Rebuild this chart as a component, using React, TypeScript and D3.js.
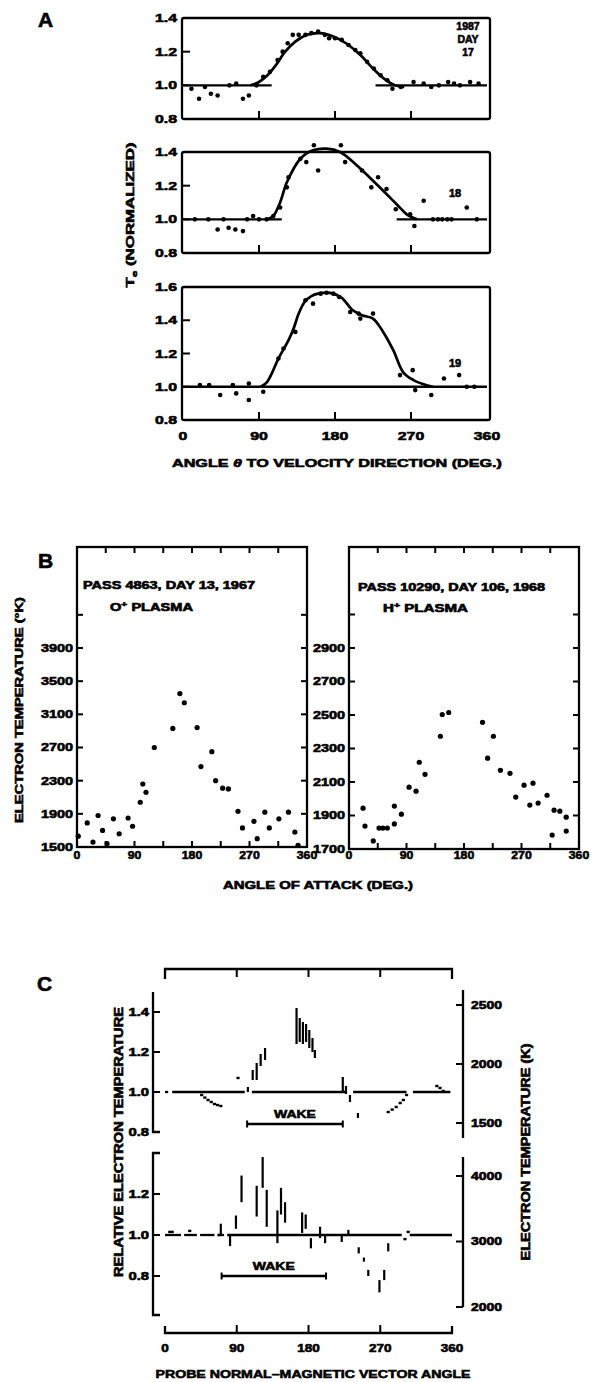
import React from 'react';
import * as d3 from 'd3';

const FONT = '"Liberation Sans", Arial, Helvetica, sans-serif';

// ---------- Panel A data ----------
const angleLabels = [0, 90, 180, 270, 360];
const innerAngles = [90, 180, 270];

const a17Dots: [number, number][] = [
  [10, 0.98], [19, 0.92], [26, 0.99], [33, 0.95], [41, 0.94], [55, 1.0], [63, 1.01], [71, 0.92], [78, 0.94], [87, 1.0],
  [95, 1.05], [103, 1.08], [112, 1.15], [118, 1.2], [124, 1.25], [130, 1.3], [137, 1.3], [145, 1.3], [152, 1.31], [160, 1.32],
  [168, 1.3], [173, 1.28], [180, 1.28], [188, 1.27], [196, 1.24], [204, 1.21], [210, 1.19], [218, 1.14], [226, 1.1], [234, 1.06],
  [242, 1.03], [248, 0.98], [258, 0.99], [273, 1.02], [285, 1.01], [294, 0.99], [303, 1.0], [314, 1.02], [321, 1.01], [328, 1.0],
  [340, 1.02], [350, 1.01],
];
const a17Curve: [number, number][] = [
  [80, 1.0], [90, 1.02], [100, 1.06], [110, 1.12], [121, 1.2], [133, 1.26], [147, 1.3], [162, 1.31], [178, 1.29],
  [193, 1.25], [210, 1.18], [225, 1.1], [238, 1.04], [251, 1.0], [262, 0.99],
];
const a17Flat: [number, number][] = [[0, 105], [228, 360]];

const a18Dots: [number, number][] = [
  [14, 1.0], [30, 1.0], [41, 0.94], [48, 1.0], [54, 0.95], [62, 0.94], [71, 0.93], [76, 1.0], [83, 1.02], [90, 1.0],
  [99, 1.0], [107, 1.02], [115, 1.07], [123, 1.19], [125, 1.25], [139, 1.36], [146, 1.34], [155, 1.44], [160, 1.29], [187, 1.44],
  [192, 1.34], [212, 1.29], [223, 1.19], [231, 1.25], [241, 1.18], [252, 1.06], [269, 1.03], [274, 0.96], [285, 1.11], [296, 1.0],
  [302, 1.0], [307, 1.0], [313, 1.0], [318, 1.0], [336, 1.07], [348, 1.0],
];
const a18Curve: [number, number][] = [
  [100, 1.0], [107, 1.02], [115, 1.1], [123, 1.22], [139, 1.36], [154, 1.41], [170, 1.42], [186, 1.4], [206, 1.32],
  [229, 1.21], [253, 1.09], [265, 1.03], [277, 1.0],
];
const a18Flat: [number, number][] = [[0, 117], [253, 360]];

const a19Dots: [number, number][] = [
  [20, 1.01], [31, 1.01], [44, 0.95], [59, 1.01], [63, 0.96], [78, 1.02], [78, 0.92], [95, 0.97], [113, 1.17], [119, 1.23],
  [133, 1.33], [145, 1.52], [154, 1.5], [163, 1.56], [170, 1.565], [178, 1.56], [185, 1.54], [198, 1.45], [208, 1.44], [210, 1.41],
  [225, 1.44], [257, 1.07], [272, 1.1], [275, 0.98], [294, 0.95], [309, 1.05], [327, 1.07], [336, 1.0], [345, 1.0],
];
const a19Curve: [number, number][] = [
  [92, 1.0], [99, 1.025], [106, 1.09], [113, 1.17], [119, 1.225], [125, 1.28], [131, 1.35], [137, 1.44], [144, 1.51],
  [152, 1.545], [160, 1.56], [174, 1.565], [188, 1.535], [200, 1.465], [212, 1.43], [225, 1.41], [237, 1.33], [249, 1.22],
  [261, 1.085], [273, 1.04], [285, 1.015], [296, 1.0],
];
const a19Flat: [number, number][] = [[0, 360]];

const aTicks14 = [0.8, 1.0, 1.2, 1.4];
const aTicks16 = [0.8, 1.0, 1.2, 1.4, 1.6];

// ---------- Panel B data ----------
const bAngleTicks = [45, 90, 135, 180, 225, 270, 315];
const bLeftTicks = [1500, 1900, 2300, 2700, 3100, 3500, 3900, 4300];
const bLeftLabels = [1500, 1900, 2300, 2700, 3100, 3500, 3900];
const bRightTicks = [1700, 1900, 2100, 2300, 2500, 2700, 2900, 3100];
const bRightLabels = [1700, 1900, 2100, 2300, 2500, 2700, 2900];

const bLeftDots: [number, number][] = [
  [2, 1630], [16, 1790], [25, 1560], [33, 1880], [40, 1700], [47, 1540], [57, 1840], [66, 1660], [80, 1850], [87, 1750],
  [99, 2040], [103, 2260], [108, 2160], [121, 2700], [150, 2930], [161, 3350], [168, 3240], [188, 2940], [194, 2470], [211, 2650],
  [217, 2300], [228, 2210], [237, 2200], [252, 1930], [259, 1730], [277, 1810], [282, 1600], [294, 1920], [301, 1730], [316, 1840],
  [331, 1920], [341, 1680], [346, 1520],
];
const bRightDots: [number, number][] = [
  [22, 1944], [25, 1837], [38, 1748], [47, 1825], [53, 1825], [60, 1825], [71, 1956], [71, 1850], [82, 1908], [94, 2069],
  [105, 2045], [110, 2218], [119, 2146], [143, 2373], [146, 2503], [156, 2515], [209, 2456], [217, 2242], [226, 2373], [237, 2170],
  [252, 2152], [261, 2010], [274, 2081], [283, 1962], [288, 2093], [296, 1974], [310, 2021], [318, 1783], [321, 1932], [330, 1926],
  [340, 1807], [340, 1890],
];

// ---------- Panel C data ----------
const cTopLeftTicks = [1.4, 1.2, 1.0, 0.8];
const cTopRightTicks = [2500, 2000, 1500];
const cBotLeftTicks = [1.2, 1.0, 0.8];
const cBotRightTicks = [4000, 3000, 2000];

// [angle, low, high]
const cTopBars: [number, number, number][] = [
  [46, 0.985, 0.985], [50, 0.972, 0.972], [54, 0.96, 0.96], [58, 0.95, 0.95], [62, 0.94, 0.94], [66, 0.935, 0.935], [70, 0.93, 0.93],
  [91.6, 1.07, 1.07], [104, 1.0, 1.025], [110, 1.06, 1.11], [115, 1.06, 1.145], [120, 1.13, 1.19], [125.5, 1.16, 1.22],
  [165, 1.24, 1.42], [169, 1.25, 1.37], [173, 1.24, 1.35], [177, 1.25, 1.34], [181, 1.22, 1.31], [185, 1.2, 1.27], [188, 1.17, 1.21],
  [223, 1.0, 1.075], [227, 0.99, 1.03], [232, 0.95, 0.985], [242, 0.87, 0.895],
  [280, 0.9, 0.9], [285, 0.912, 0.912], [290, 0.925, 0.925], [295, 0.945, 0.945], [299, 0.96, 0.96], [303, 0.985, 0.985],
  [341, 1.03, 1.03], [345, 1.02, 1.02], [349, 1.005, 1.005],
];
const cTopBase: [number, number][] = [[0, 4], [9, 100], [109, 228], [236, 303], [311, 358]];
const cTopWake: [number, number, number] = [103, 223, 0.84];

const cBotBars: [number, number, number][] = [
  [6, 1.015, 1.015], [9, 1.015, 1.015], [31, 1.02, 1.02], [68, 1.0, 1.0],
  [70, 1.005, 1.055], [81.6, 0.946, 1.0], [89, 1.03, 1.095], [96, 1.16, 1.29], [115, 1.09, 1.24], [122.5, 1.23, 1.38],
  [127.6, 1.04, 1.22], [141, 0.96, 1.12], [145.5, 1.1, 1.23], [150.6, 1.06, 1.16], [172, 1.01, 1.11], [176.5, 1.03, 1.1],
  [183, 0.935, 0.985], [194.5, 0.985, 1.04], [200.8, 0.96, 1.0], [221.7, 0.966, 1.0], [230, 1.0, 1.025],
  [243, 0.91, 0.94], [249.5, 0.87, 0.89], [255, 0.8, 0.83], [269, 0.72, 0.78], [275, 0.78, 0.83], [280, 0.92, 0.96],
  [301, 0.98, 0.98], [305, 1.015, 1.015],
];
const cBotBase: [number, number][] = [[0, 20], [24, 40], [44, 62], [66, 74], [78, 297], [307, 360]];
const cBotWake: [number, number, number] = [71, 202, 0.8];

const T = {
  fontFamily: FONT,
  fontWeight: 700 as const,
  fill: '#000',
  stroke: '#000',
  strokeWidth: 0.6,
};

// width helper for heavy scanned numerals
const numLen = (s: string, digit: number, dot: number) =>
  s.split('').reduce((acc, ch) => acc + (ch === '.' ? dot : digit), 0);

export default function App() {
  // ---------- scales ----------
  const xA = d3.scaleLinear().domain([0, 360]).range([183, 487]);
  const subs = [
    { dots: a17Dots, curve: a17Curve, flat: a17Flat, y: d3.scaleLinear().domain([0.8, 1.4]).range([119, 18]), ticks: aTicks14 },
    { dots: a18Dots, curve: a18Curve, flat: a18Flat, y: d3.scaleLinear().domain([0.8, 1.4]).range([253, 152]), ticks: aTicks14 },
    { dots: a19Dots, curve: a19Curve, flat: a19Flat, y: d3.scaleLinear().domain([0.8, 1.6]).range([420, 287]), ticks: aTicks16 },
  ];

  const xBL = d3.scaleLinear().domain([0, 360]).range([77, 307]);
  const yBL = d3.scaleLinear().domain([1500, 3900]).range([847, 648]);
  const xBR = d3.scaleLinear().domain([0, 360]).range([349, 579]);
  const yBR = d3.scaleLinear().domain([1700, 2900]).range([849, 648]);

  const xC = d3.scaleLinear().domain([0, 360]).range([165, 452]);
  const yCT = d3.scaleLinear().domain([0.8, 1.4]).range([1132, 1012]);
  const yCTK = d3.scaleLinear().domain([1500, 2500]).range([1123, 1005]);
  const yCB = d3.scaleLinear().domain([0.8, 1.2]).range([1276, 1194]);
  const yCBK = d3.scaleLinear().domain([2000, 4000]).range([1307, 1176]);

  // ---------- Panel A ----------
  const panelA = subs.map((s, i) => {
    const yMax = s.ticks[s.ticks.length - 1];
    const top = s.y(yMax);
    const bot = s.y(0.8);
    const line = d3
      .line<[number, number]>()
      .x((d) => xA(d[0]))
      .y((d) => s.y(d[1]))
      .curve(d3.curveCatmullRom.alpha(0.5));
    return (
      <g key={'a' + i}>
        <rect x={182} y={top} width={308} height={bot - top} rx={2} fill="none" stroke="#000" strokeWidth={2.3} />
        {s.ticks.slice(1, -1).map((t) => (
          <line key={t} x1={182} x2={190} y1={s.y(t)} y2={s.y(t)} stroke="#000" strokeWidth={2} />
        ))}
        {innerAngles.map((a) => (
          <line key={a} x1={xA(a)} x2={xA(a)} y1={bot} y2={bot - 8} stroke="#000" strokeWidth={2} />
        ))}
        {s.ticks.map((t) => (
          <text
            key={'l' + t}
            x={177}
            y={s.y(t)}
            dy="0.35em"
            textAnchor="end"
            fontSize={11.5}
            style={T}
            textLength={numLen(t.toFixed(1), 8.5, 5)}
            lengthAdjust="spacingAndGlyphs"
          >
            {t.toFixed(1)}
          </text>
        ))}
        {s.flat.map((f, j) => (
          <line key={'f' + j} x1={xA(f[0])} x2={xA(f[1])} y1={s.y(1)} y2={s.y(1)} stroke="#000" strokeWidth={2.4} />
        ))}
        <path d={line(s.curve) || ''} fill="none" stroke="#000" strokeWidth={2.7} />
        {s.dots.map((d, j) => (
          <circle key={'d' + j} cx={xA(d[0])} cy={s.y(d[1])} r={2.3} fill="#000" />
        ))}
      </g>
    );
  });

  // ---------- Panel B ----------
  const bPlot = (
    xs: d3.ScaleLinear<number, number>,
    ys: d3.ScaleLinear<number, number>,
    ticks: number[],
    labels: number[],
    dots: [number, number][],
    left: number,
    right: number,
    top: number,
    bottom: number,
    key: string
  ) => (
    <g key={key}>
      <rect x={left} y={top} width={right - left} height={bottom - top} fill="none" stroke="#000" strokeWidth={2.3} />
      {bAngleTicks.map((a) => (
        <g key={a}>
          <line x1={xs(a)} x2={xs(a)} y1={top} y2={top + 6} stroke="#000" strokeWidth={2} />
          <line x1={xs(a)} x2={xs(a)} y1={bottom} y2={bottom - 6} stroke="#000" strokeWidth={2} />
        </g>
      ))}
      {ticks.map((t) => (
        <g key={t}>
          <line x1={left} x2={left + 6} y1={ys(t)} y2={ys(t)} stroke="#000" strokeWidth={2} />
          <line x1={right} x2={right - 6} y1={ys(t)} y2={ys(t)} stroke="#000" strokeWidth={2} />
        </g>
      ))}
      {labels.map((t) => (
        <text
          key={'l' + t}
          x={left - 4}
          y={ys(t)}
          dy="0.35em"
          textAnchor="end"
          fontSize={11}
          style={T}
          textLength={32}
          lengthAdjust="spacingAndGlyphs"
        >
          {String(t)}
        </text>
      ))}
      {angleLabels.map((a) => (
        <text
          key={'x' + a}
          x={xs(a)}
          y={859}
          textAnchor="middle"
          fontSize={11}
          style={T}
          textLength={String(a).length * 6.8}
          lengthAdjust="spacingAndGlyphs"
        >
          {a}
        </text>
      ))}
      {dots.map((d, j) => (
        <circle key={'d' + j} cx={xs(d[0])} cy={ys(d[1])} r={2.6} fill="#000" />
      ))}
    </g>
  );

  // ---------- Panel C ----------
  const bars = (data: [number, number, number][], ys: d3.ScaleLinear<number, number>, key: string) =>
    data.map((d, j) =>
      d[1] === d[2] ? (
        <rect key={key + j} x={xC(d[0]) - 1.6} y={ys(d[1]) - 1.2} width={3.2} height={2.4} fill="#000" />
      ) : (
        <line key={key + j} x1={xC(d[0])} x2={xC(d[0])} y1={ys(d[1])} y2={ys(d[2])} stroke="#000" strokeWidth={2.2} />
      )
    );
  const wake = (w: [number, number, number], ys: d3.ScaleLinear<number, number>, key: string) => (
    <g key={key}>
      <line x1={xC(w[0])} x2={xC(w[1])} y1={ys(w[2])} y2={ys(w[2])} stroke="#000" strokeWidth={2.3} />
      <line x1={xC(w[0])} x2={xC(w[0])} y1={ys(w[2]) - 3.5} y2={ys(w[2]) + 3.5} stroke="#000" strokeWidth={2} />
      <line x1={xC(w[1])} x2={xC(w[1])} y1={ys(w[2]) - 3.5} y2={ys(w[2]) + 3.5} stroke="#000" strokeWidth={2} />
      <text
        x={xC((w[0] + w[1]) / 2)}
        y={ys(w[2]) - 6}
        textAnchor="middle"
        fontSize={11}
        style={T}
        textLength={42}
        lengthAdjust="spacingAndGlyphs"
      >
        WAKE
      </text>
    </g>
  );

  const cNum = (s: string) => numLen(s, 8, 4.5);

  return (
    <svg
      width={593}
      height={1382}
      viewBox="0 0 593 1382"
      style={{ position: 'absolute', left: 0, top: 0, background: '#fff' }}
    >
      <rect x={0} y={0} width={593} height={1382} fill="#fff" />

      {/* ===== Panel A ===== */}
      <text x={38} y={27} fontSize={21} style={T}>A</text>
      {panelA}
      <text x={468} y={30} textAnchor="middle" fontSize={10.5} style={T}>1987</text>
      <text x={468} y={43} textAnchor="middle" fontSize={10.5} style={T}>DAY</text>
      <text x={468} y={56} textAnchor="middle" fontSize={10.5} style={T}>17</text>
      <text x={455} y={197} textAnchor="middle" fontSize={11} style={T}>18</text>
      <text x={455} y={367} textAnchor="middle" fontSize={11} style={T}>19</text>
      {angleLabels.map((a) => (
        <text
          key={'ax' + a}
          x={xA(a)}
          y={440}
          textAnchor="middle"
          fontSize={11.5}
          style={T}
          textLength={String(a).length * 8.8}
          lengthAdjust="spacingAndGlyphs"
        >
          {a}
        </text>
      ))}
      <text x={337} y={467} textAnchor="middle" fontSize={11.5} style={T} textLength={330} lengthAdjust="spacingAndGlyphs">
        ANGLE <tspan fontStyle="italic">θ</tspan> TO VELOCITY DIRECTION (DEG.)
      </text>
      <text
        transform="translate(134,215) rotate(-90)"
        textAnchor="middle"
        fontSize={11.5}
        style={T}
        textLength={145}
        lengthAdjust="spacingAndGlyphs"
      >
        T<tspan fontSize={8} dy={3}>e</tspan>
        <tspan dy={-3}> (NORMALIZED)</tspan>
      </text>

      {/* ===== Panel B ===== */}
      <text x={38} y={568} fontSize={21} style={T}>B</text>
      {bPlot(xBL, yBL, bLeftTicks, bLeftLabels, bLeftDots, 77, 307, 547, 847, 'bl')}
      {bPlot(xBR, yBR, bRightTicks, bRightLabels, bRightDots, 349, 579, 547, 849, 'br')}
      <text x={83} y={589} fontSize={10} style={T} textLength={172} lengthAdjust="spacingAndGlyphs">
        PASS 4863, DAY 13, 1967
      </text>
      <text x={110} y={611} fontSize={10} style={T} textLength={83} lengthAdjust="spacingAndGlyphs">
        O<tspan fontSize={7} dy={-4}>+</tspan>
        <tspan dy={4}> PLASMA</tspan>
      </text>
      <text x={358} y={591} fontSize={10} style={T} textLength={187} lengthAdjust="spacingAndGlyphs">
        PASS 10290, DAY 106, 1968
      </text>
      <text x={383} y={612} fontSize={10} style={T} textLength={85} lengthAdjust="spacingAndGlyphs">
        H<tspan fontSize={7} dy={-4}>+</tspan>
        <tspan dy={4}> PLASMA</tspan>
      </text>
      <text
        transform="translate(23,710) rotate(-90)"
        textAnchor="middle"
        fontSize={11}
        style={T}
        textLength={226}
        lengthAdjust="spacingAndGlyphs"
      >
        ELECTRON TEMPERATURE (°K)
      </text>
      <text x={318} y={889} textAnchor="middle" fontSize={11} style={T} textLength={190} lengthAdjust="spacingAndGlyphs">
        ANGLE OF ATTACK (DEG.)
      </text>

      {/* ===== Panel C ===== */}
      <text x={37} y={991} fontSize={21} style={T}>C</text>
      <path d={`M${xC(0)},979 V969 H${xC(360)} V979`} fill="none" stroke="#000" strokeWidth={2.3} />
      {innerAngles.map((a) => (
        <line key={'ct' + a} x1={xC(a)} x2={xC(a)} y1={969} y2={977} stroke="#000" strokeWidth={2} />
      ))}
      {/* top subplot axes */}
      <path d={`M153,992 V${yCT(0.8)} H160`} fill="none" stroke="#000" strokeWidth={2.3} />
      {cTopLeftTicks.slice(0, 3).map((t) => (
        <line key={'ctl' + t} x1={153} x2={160} y1={yCT(t)} y2={yCT(t)} stroke="#000" strokeWidth={2} />
      ))}
      {cTopLeftTicks.map((t) => (
        <text
          key={'ctlt' + t}
          x={149}
          y={yCT(t)}
          dy="0.35em"
          textAnchor="end"
          fontSize={11}
          style={T}
          textLength={cNum(t.toFixed(1))}
          lengthAdjust="spacingAndGlyphs"
        >
          {t.toFixed(1)}
        </text>
      ))}
      <path d="M463,990 V1138" fill="none" stroke="#000" strokeWidth={2.3} />
      {cTopRightTicks.map((t) => (
        <g key={'ctr' + t}>
          <line x1={463} x2={456} y1={yCTK(t)} y2={yCTK(t)} stroke="#000" strokeWidth={2} />
          <text x={471} y={yCTK(t)} dy="0.35em" fontSize={10.5} style={T} textLength={31} lengthAdjust="spacingAndGlyphs">
            {t}
          </text>
        </g>
      ))}
      {cTopBase.map((s, j) => (
        <line key={'ctb' + j} x1={xC(s[0])} x2={xC(s[1])} y1={yCT(1)} y2={yCT(1)} stroke="#000" strokeWidth={2.3} />
      ))}
      {bars(cTopBars, yCT, 'ctd')}
      {wake(cTopWake, yCT, 'ctw')}

      {/* bottom subplot axes */}
      <path d={`M160,1153 H153 V1315 H160`} fill="none" stroke="#000" strokeWidth={2.3} />
      {cBotLeftTicks.map((t) => (
        <g key={'cbl' + t}>
          <line x1={153} x2={160} y1={yCB(t)} y2={yCB(t)} stroke="#000" strokeWidth={2} />
          <text
            x={149}
            y={yCB(t)}
            dy="0.35em"
            textAnchor="end"
            fontSize={11}
            style={T}
            textLength={cNum(t.toFixed(1))}
            lengthAdjust="spacingAndGlyphs"
          >
            {t.toFixed(1)}
          </text>
        </g>
      ))}
      <path d={`M463,1157 V${yCBK(2000)}`} fill="none" stroke="#000" strokeWidth={2.3} />
      {cBotRightTicks.map((t) => (
        <g key={'cbr' + t}>
          <line x1={463} x2={456} y1={yCBK(t)} y2={yCBK(t)} stroke="#000" strokeWidth={2} />
          <text x={471} y={yCBK(t)} dy="0.35em" fontSize={10.5} style={T} textLength={31} lengthAdjust="spacingAndGlyphs">
            {t}
          </text>
        </g>
      ))}
      {cBotBase.map((s, j) => (
        <line key={'cbb' + j} x1={xC(s[0])} x2={xC(s[1])} y1={yCB(1)} y2={yCB(1)} stroke="#000" strokeWidth={2.3} />
      ))}
      {bars(cBotBars, yCB, 'cbd')}
      {wake(cBotWake, yCB, 'cbw')}

      {/* bottom x axis */}
      <path d={`M${xC(0)},1326 V1333 H${xC(360)} V1326`} fill="none" stroke="#000" strokeWidth={2.3} />
      {innerAngles.map((a) => (
        <line key={'cx' + a} x1={xC(a)} x2={xC(a)} y1={1333} y2={1325} stroke="#000" strokeWidth={2} />
      ))}
      {angleLabels.map((a) => (
        <text
          key={'cxl' + a}
          x={xC(a)}
          y={1352}
          textAnchor="middle"
          fontSize={11}
          style={T}
          textLength={String(a).length * 7.5}
          lengthAdjust="spacingAndGlyphs"
        >
          {a}
        </text>
      ))}
      <text x={313} y={1378} textAnchor="middle" fontSize={11.5} style={T} textLength={315} lengthAdjust="spacingAndGlyphs">
        PROBE NORMAL–MAGNETIC VECTOR ANGLE
      </text>
      <text
        transform="translate(123,1142) rotate(-90)"
        textAnchor="middle"
        fontSize={12}
        style={T}
        textLength={270}
        lengthAdjust="spacingAndGlyphs"
      >
        RELATIVE ELECTRON TEMPERATURE
      </text>
      <text
        transform="translate(530,1152) rotate(-90)"
        textAnchor="middle"
        fontSize={12}
        style={T}
        textLength={217}
        lengthAdjust="spacingAndGlyphs"
      >
        ELECTRON TEMPERATURE (K)
      </text>
    </svg>
  );
}
